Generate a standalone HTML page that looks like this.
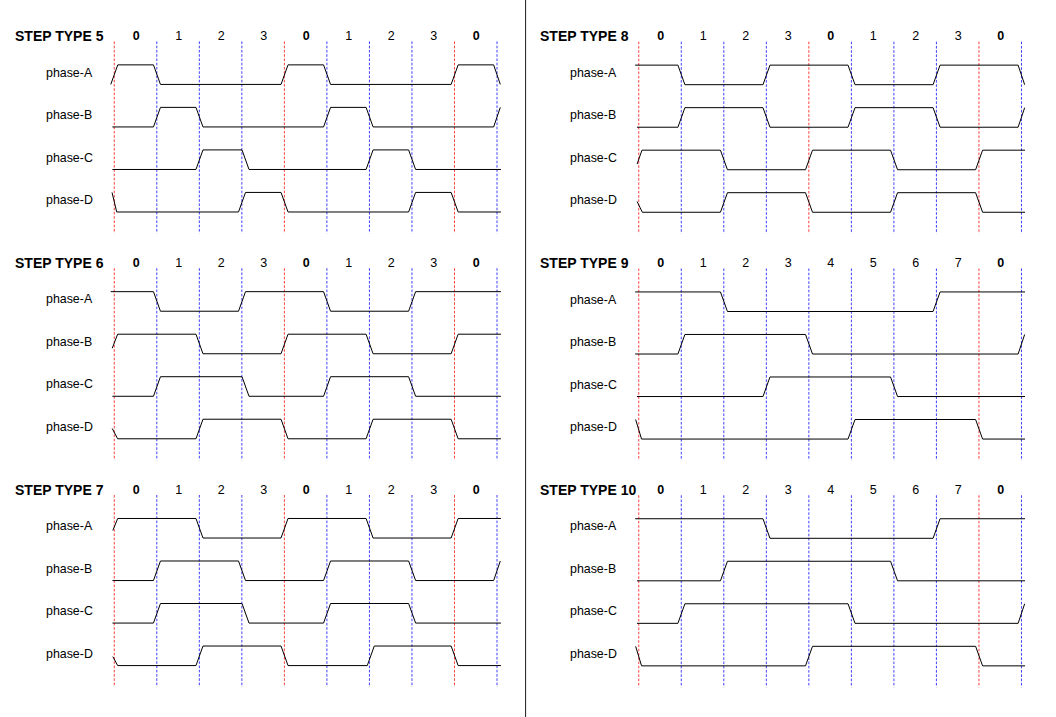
<!DOCTYPE html>
<html><head><meta charset="utf-8"><title>Step types</title>
<style>
html,body{margin:0;padding:0;background:#fff;}
body{width:1056px;height:717px;overflow:hidden;font-family:"Liberation Sans",sans-serif;}
svg{display:block}
text{font-family:"Liberation Sans",sans-serif;fill:#000}
.t{font-weight:bold;font-size:14px}
.n{font-size:12.5px}
.nb{font-size:12.5px;font-weight:bold}
.p{font-size:12.4px}
.w{fill:none;stroke:#000;stroke-width:1;stroke-linejoin:miter}
.r{stroke:#ff0000;stroke-width:.76;stroke-dasharray:2.6 1.663;fill:none}
.b{stroke:#0000ff;stroke-width:.76;stroke-dasharray:2.6 1.663;fill:none}
</style></head><body>
<svg width="1056" height="717" viewBox="0 0 1056 717">
<rect width="1056" height="717" fill="#fff"/>
<path d="M525.6 0V717" stroke="#000" stroke-width=".9" fill="none"/>

<text class="t" x="15" y="41">STEP TYPE 5</text>
<text class="nb" x="136.14" y="40" text-anchor="middle">0</text>
<text class="n" x="178.67" y="40" text-anchor="middle">1</text>
<text class="n" x="221.19" y="40" text-anchor="middle">2</text>
<text class="n" x="263.72" y="40" text-anchor="middle">3</text>
<text class="nb" x="306.24" y="40" text-anchor="middle">0</text>
<text class="n" x="348.77" y="40" text-anchor="middle">1</text>
<text class="n" x="391.29" y="40" text-anchor="middle">2</text>
<text class="n" x="433.82" y="40" text-anchor="middle">3</text>
<text class="nb" x="476.34" y="40" text-anchor="middle">0</text>
<path class="r" d="M114.28 41.4V233.4"/>
<path class="b" d="M156.81 41.4V233.4"/>
<path class="b" d="M199.33 41.4V233.4"/>
<path class="b" d="M241.85 41.4V233.4"/>
<path class="r" d="M284.38 41.4V233.4"/>
<path class="b" d="M326.9 41.4V233.4"/>
<path class="b" d="M369.43 41.4V233.4"/>
<path class="b" d="M411.96 41.4V233.4"/>
<path class="r" d="M454.48 41.4V233.4"/>
<path class="b" d="M497 41.4V233.4"/>
<text class="p" x="46" y="77">phase-A</text>
<path class="w" d="M110.78 84.43 L117.78 64.87 L153.46 64.87 L160.46 84.43 L281.03 84.43 L288.03 64.87 L323.55 64.87 L330.55 84.43 L451.13 84.43 L458.13 64.87 L493.65 64.87 L500.31 84.43"/>
<text class="p" x="46" y="119">phase-B</text>
<path class="w" d="M112.38 126.95 L153.46 126.95 L160.46 107.39 L195.98 107.39 L202.98 126.95 L323.55 126.95 L330.55 107.39 L366.08 107.39 L373.08 126.95 L493.65 126.95 L500.31 107.39"/>
<text class="p" x="46" y="162">phase-C</text>
<path class="w" d="M112.38 169.47 L195.98 169.47 L202.98 149.91 L242 149.91 L249 169.47 L366.08 169.47 L373.08 149.91 L408.61 149.91 L415.61 169.47 L500.95 169.47"/>
<text class="p" x="46" y="204">phase-D</text>
<path class="w" d="M112.03 192.43 L116.73 211.99 L238.5 211.99 L245.5 192.43 L281.03 192.43 L288.03 211.99 L408.61 211.99 L415.61 192.43 L451.13 192.43 L458.13 211.99 L500.95 211.99"/>
<text class="t" x="15" y="268">STEP TYPE 6</text>
<text class="nb" x="136.14" y="267" text-anchor="middle">0</text>
<text class="n" x="178.67" y="267" text-anchor="middle">1</text>
<text class="n" x="221.19" y="267" text-anchor="middle">2</text>
<text class="n" x="263.72" y="267" text-anchor="middle">3</text>
<text class="nb" x="306.24" y="267" text-anchor="middle">0</text>
<text class="n" x="348.77" y="267" text-anchor="middle">1</text>
<text class="n" x="391.29" y="267" text-anchor="middle">2</text>
<text class="n" x="433.82" y="267" text-anchor="middle">3</text>
<text class="nb" x="476.34" y="267" text-anchor="middle">0</text>
<path class="r" d="M114.28 268.2V460.2"/>
<path class="b" d="M156.81 268.2V460.2"/>
<path class="b" d="M199.33 268.2V460.2"/>
<path class="b" d="M241.85 268.2V460.2"/>
<path class="r" d="M284.38 268.2V460.2"/>
<path class="b" d="M326.9 268.2V460.2"/>
<path class="b" d="M369.43 268.2V460.2"/>
<path class="b" d="M411.96 268.2V460.2"/>
<path class="r" d="M454.48 268.2V460.2"/>
<path class="b" d="M497 268.2V460.2"/>
<text class="p" x="46" y="303">phase-A</text>
<path class="w" d="M110.68 291.67 L153.46 291.67 L160.46 311.23 L238.5 311.23 L245.5 291.67 L323.55 291.67 L330.55 311.23 L408.61 311.23 L415.61 291.67 L500.95 291.67"/>
<text class="p" x="46" y="346">phase-B</text>
<path class="w" d="M112.23 348.29 L117.63 334.19 L195.98 334.19 L202.98 353.75 L281.03 353.75 L288.03 334.19 L366.08 334.19 L373.08 353.75 L451.13 353.75 L458.13 334.19 L500.95 334.19"/>
<text class="p" x="46" y="388">phase-C</text>
<path class="w" d="M112.38 396.27 L153.46 396.27 L160.46 376.71 L242 376.71 L249 396.27 L323.55 396.27 L330.55 376.71 L408.61 376.71 L415.61 396.27 L500.95 396.27"/>
<text class="p" x="46" y="431">phase-D</text>
<path class="w" d="M112.23 428.49 L117.63 438.79 L195.98 438.79 L202.98 419.23 L281.03 419.23 L288.03 438.79 L366.08 438.79 L373.08 419.23 L451.13 419.23 L458.13 438.79 L500.95 438.79"/>
<text class="t" x="15" y="495">STEP TYPE 7</text>
<text class="nb" x="136.14" y="494" text-anchor="middle">0</text>
<text class="n" x="178.67" y="494" text-anchor="middle">1</text>
<text class="n" x="221.19" y="494" text-anchor="middle">2</text>
<text class="n" x="263.72" y="494" text-anchor="middle">3</text>
<text class="nb" x="306.24" y="494" text-anchor="middle">0</text>
<text class="n" x="348.77" y="494" text-anchor="middle">1</text>
<text class="n" x="391.29" y="494" text-anchor="middle">2</text>
<text class="n" x="433.82" y="494" text-anchor="middle">3</text>
<text class="nb" x="476.34" y="494" text-anchor="middle">0</text>
<path class="r" d="M114.28 495V687"/>
<path class="b" d="M156.81 495V687"/>
<path class="b" d="M199.33 495V687"/>
<path class="b" d="M241.85 495V687"/>
<path class="r" d="M284.38 495V687"/>
<path class="b" d="M326.9 495V687"/>
<path class="b" d="M369.43 495V687"/>
<path class="b" d="M411.96 495V687"/>
<path class="r" d="M454.48 495V687"/>
<path class="b" d="M497 495V687"/>
<text class="p" x="46" y="530">phase-A</text>
<path class="w" d="M112.83 530.47 L117.68 518.47 L195.98 518.47 L202.98 538.03 L281.03 538.03 L288.03 518.47 L366.08 518.47 L373.08 538.03 L451.13 538.03 L458.13 518.47 L500.95 518.47"/>
<text class="p" x="46" y="573">phase-B</text>
<path class="w" d="M112.48 580.55 L153.46 580.55 L160.46 560.99 L238.5 560.99 L245.5 580.55 L323.55 580.55 L330.55 560.99 L408.61 560.99 L415.61 580.55 L493.65 580.55 L500.31 560.99"/>
<text class="p" x="46" y="615">phase-C</text>
<path class="w" d="M112.48 623.07 L153.46 623.07 L160.46 603.51 L242 603.51 L249 623.07 L323.55 623.07 L330.55 603.51 L408.61 603.51 L415.61 623.07 L500.95 623.07"/>
<text class="p" x="46" y="658">phase-D</text>
<path class="w" d="M112.83 656.59 L117.68 665.59 L195.98 665.59 L202.98 646.03 L281.03 646.03 L288.03 665.59 L367.28 665.59 L374.28 646.03 L451.13 646.03 L458.13 665.59 L500.95 665.59"/>
<text class="t" x="540" y="41">STEP TYPE 8</text>
<text class="nb" x="660.61" y="40" text-anchor="middle">0</text>
<text class="n" x="703.14" y="40" text-anchor="middle">1</text>
<text class="n" x="745.66" y="40" text-anchor="middle">2</text>
<text class="n" x="788.19" y="40" text-anchor="middle">3</text>
<text class="nb" x="830.71" y="40" text-anchor="middle">0</text>
<text class="n" x="873.24" y="40" text-anchor="middle">1</text>
<text class="n" x="915.76" y="40" text-anchor="middle">2</text>
<text class="n" x="958.29" y="40" text-anchor="middle">3</text>
<text class="nb" x="1000.81" y="40" text-anchor="middle">0</text>
<path class="r" d="M638.75 41.67V233.67"/>
<path class="b" d="M681.27 41.67V233.67"/>
<path class="b" d="M723.8 41.67V233.67"/>
<path class="b" d="M766.33 41.67V233.67"/>
<path class="r" d="M808.85 41.67V233.67"/>
<path class="b" d="M851.38 41.67V233.67"/>
<path class="b" d="M893.9 41.67V233.67"/>
<path class="b" d="M936.42 41.67V233.67"/>
<path class="r" d="M978.95 41.67V233.67"/>
<path class="b" d="M1021.47 41.67V233.67"/>
<text class="p" x="570" y="77">phase-A</text>
<path class="w" d="M635.15 65.14 L677.92 65.14 L684.92 84.7 L762.98 84.7 L769.98 65.14 L848.02 65.14 L855.02 84.7 L933.07 84.7 L940.07 65.14 L1018.12 65.14 L1024.67 84.7"/>
<text class="p" x="570" y="119">phase-B</text>
<path class="w" d="M636.95 127.22 L677.92 127.22 L684.92 107.66 L762.98 107.66 L769.98 127.22 L848.02 127.22 L855.02 107.66 L933.07 107.66 L940.07 127.22 L1018.12 127.22 L1024.67 107.66"/>
<text class="p" x="570" y="162">phase-C</text>
<path class="w" d="M637.1 164.08 L641.95 150.18 L720.45 150.18 L727.45 169.74 L805.5 169.74 L812.5 150.18 L890.55 150.18 L897.55 169.74 L975.6 169.74 L982.6 150.18 L1025.02 150.18"/>
<text class="p" x="570" y="204">phase-D</text>
<path class="w" d="M637.1 201.56 L642.35 212.26 L720.45 212.26 L727.45 192.7 L805.5 192.7 L812.5 212.26 L890.55 212.26 L897.55 192.7 L975.6 192.7 L982.6 212.26 L1025.02 212.26"/>
<text class="t" x="540" y="268">STEP TYPE 9</text>
<text class="nb" x="660.61" y="267" text-anchor="middle">0</text>
<text class="n" x="703.14" y="267" text-anchor="middle">1</text>
<text class="n" x="745.66" y="267" text-anchor="middle">2</text>
<text class="n" x="788.19" y="267" text-anchor="middle">3</text>
<text class="n" x="830.71" y="267" text-anchor="middle">4</text>
<text class="n" x="873.24" y="267" text-anchor="middle">5</text>
<text class="n" x="915.76" y="267" text-anchor="middle">6</text>
<text class="n" x="958.29" y="267" text-anchor="middle">7</text>
<text class="nb" x="1000.81" y="267" text-anchor="middle">0</text>
<path class="r" d="M638.75 268.47V460.47"/>
<path class="b" d="M681.27 268.47V460.47"/>
<path class="b" d="M723.8 268.47V460.47"/>
<path class="b" d="M766.33 268.47V460.47"/>
<path class="b" d="M808.85 268.47V460.47"/>
<path class="b" d="M851.38 268.47V460.47"/>
<path class="b" d="M893.9 268.47V460.47"/>
<path class="b" d="M936.42 268.47V460.47"/>
<path class="r" d="M978.95 268.47V460.47"/>
<path class="b" d="M1021.47 268.47V460.47"/>
<text class="p" x="570" y="304">phase-A</text>
<path class="w" d="M635.15 291.94 L720.45 291.94 L727.45 311.5 L933.07 311.5 L940.07 291.94 L1025.02 291.94"/>
<text class="p" x="570" y="346">phase-B</text>
<path class="w" d="M635.15 354.02 L677.92 354.02 L684.92 334.46 L805.5 334.46 L812.5 354.02 L1018.12 354.02 L1024.67 334.46"/>
<text class="p" x="570" y="389">phase-C</text>
<path class="w" d="M636.95 396.54 L762.98 396.54 L769.98 376.98 L890.55 376.98 L897.55 396.54 L1025.02 396.54"/>
<text class="p" x="570" y="431">phase-D</text>
<path class="w" d="M635.65 419.5 L641.55 439.06 L848.02 439.06 L855.02 419.5 L975.6 419.5 L982.6 439.06 L1025.02 439.06"/>
<text class="t" x="540" y="495">STEP TYPE 10</text>
<text class="nb" x="660.61" y="494" text-anchor="middle">0</text>
<text class="n" x="703.14" y="494" text-anchor="middle">1</text>
<text class="n" x="745.66" y="494" text-anchor="middle">2</text>
<text class="n" x="788.19" y="494" text-anchor="middle">3</text>
<text class="n" x="830.71" y="494" text-anchor="middle">4</text>
<text class="n" x="873.24" y="494" text-anchor="middle">5</text>
<text class="n" x="915.76" y="494" text-anchor="middle">6</text>
<text class="n" x="958.29" y="494" text-anchor="middle">7</text>
<text class="nb" x="1000.81" y="494" text-anchor="middle">0</text>
<path class="r" d="M638.75 495.27V687.27"/>
<path class="b" d="M681.27 495.27V687.27"/>
<path class="b" d="M723.8 495.27V687.27"/>
<path class="b" d="M766.33 495.27V687.27"/>
<path class="b" d="M808.85 495.27V687.27"/>
<path class="b" d="M851.38 495.27V687.27"/>
<path class="b" d="M893.9 495.27V687.27"/>
<path class="b" d="M936.42 495.27V687.27"/>
<path class="r" d="M978.95 495.27V687.27"/>
<path class="b" d="M1021.47 495.27V687.27"/>
<text class="p" x="570" y="530">phase-A</text>
<path class="w" d="M635.15 518.74 L762.98 518.74 L769.98 538.3 L933.07 538.3 L940.07 518.74 L1025.02 518.74"/>
<text class="p" x="570" y="573">phase-B</text>
<path class="w" d="M636.95 580.82 L720.45 580.82 L727.45 561.26 L890.55 561.26 L897.55 580.82 L1025.02 580.82"/>
<text class="p" x="570" y="615">phase-C</text>
<path class="w" d="M636.95 623.34 L677.92 623.34 L684.92 603.78 L848.02 603.78 L855.02 623.34 L1018.12 623.34 L1024.67 603.78"/>
<text class="p" x="570" y="658">phase-D</text>
<path class="w" d="M635.65 646.3 L641.55 665.86 L805.5 665.86 L812.5 646.3 L975.6 646.3 L982.6 665.86 L1025.02 665.86"/>
</svg></body></html>
